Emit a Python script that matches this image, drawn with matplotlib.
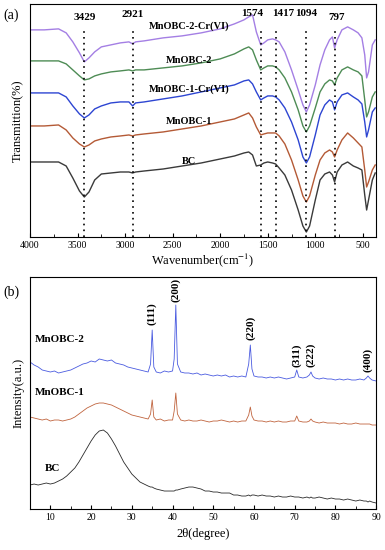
import numpy as np
import matplotlib
matplotlib.use("Agg")
import matplotlib.pyplot as plt
from matplotlib.ticker import MultipleLocator

plt.rcParams['font.family'] = ['Liberation Serif', 'DejaVu Serif']
plt.rcParams['mathtext.fontset'] = 'stix'

# ---------------- FTIR data (arbitrary units) ----------------
wn = [4000, 3850, 3700, 3620, 3550, 3480, 3429, 3380, 3320, 3250,
      3150, 3050, 2960, 2921, 2890, 2800, 2600, 2400, 2200, 2000,
      1850, 1750, 1700, 1660, 1620, 1574, 1540, 1500, 1450, 1417,
      1380, 1320, 1250, 1180, 1130, 1094, 1060, 1000, 950, 900,
      850, 820, 797, 770, 720, 660, 600, 550, 510, 480,
      460, 440, 400, 370]

ft_mnobc2_cr = [210, 210, 211, 207, 198, 187, 178, 182, 188, 193,
                195, 197, 198, 196, 198, 199, 202, 204, 207, 211,
                216, 220, 223, 225, 208, 195, 197, 200, 201, 200,
                198, 188, 170, 150, 135, 128, 135, 155, 175, 190,
                200, 203, 192, 200, 210, 213, 210, 207, 202, 185,
                162, 168, 195, 200]
ft_mnobc2 = [179, 179, 179, 176, 170, 164, 160, 161, 164, 166,
             168, 169, 170, 169, 170, 170, 172, 174, 177, 181,
             186, 191, 193, 190, 180, 170, 172, 174, 174, 173,
             170, 162, 148, 130, 114, 108, 114, 132, 148, 156,
             160, 159, 155, 162, 170, 173, 170, 168, 164, 140,
             123, 128, 143, 148]
ft_mnobc1_cr = [147, 147, 147, 143, 134, 126, 122, 125, 131, 134,
                137, 138, 138, 134, 137, 138, 141, 144, 148, 152,
                155, 159, 160, 156, 148, 140, 142, 144, 144, 143,
                140, 132, 118, 100, 83, 77, 83, 105, 125, 135,
                140, 138, 130, 138, 145, 147, 143, 140, 136, 118,
                103, 110, 128, 132]
ft_mnobc1 = [114, 114, 115, 110, 102, 96, 93, 95, 99, 101,
             103, 104, 105, 104, 105, 106, 108, 111, 114, 118,
             121, 125, 127, 122, 113, 105, 106, 107, 107, 107,
             104, 96, 80, 60, 44, 38, 44, 65, 80, 87,
             90, 88, 83, 90, 100, 107, 102, 97, 93, 70,
             53, 58, 70, 75]
ft_bc = [78, 78, 78, 74, 62, 49, 43, 48, 60, 66,
         67, 68, 68, 67, 68, 69, 71, 74, 77, 81,
         84, 87, 88, 85, 74, 75, 77, 78, 77, 76,
         72, 65, 50, 30, 14, 8, 14, 40, 60, 66,
         68, 65, 58, 68, 75, 78, 74, 72, 70, 45,
         30, 40, 60, 67]

ft_names = ['MnOBC-2-Cr(VI)', 'MnOBC-2', 'MnOBC-1-Cr(VI)', 'MnOBC-1', 'BC']
ft_colors = ['#a47fe4', '#4e8c55', '#2d45d2', '#b45a36', '#3a3a3a']
ft_peaks = [3429, 2921, 1574, 1417, 1094, 797]

# ---------------- XRD data (arbitrary units) ----------------
tt = ([5, 6, 7, 8, 9, 10, 11, 12, 13, 14, 15, 16, 17, 18, 19, 20, 21, 22, 23, 24,
       25, 26, 27, 28, 29, 30, 31, 32, 33, 34]
      + [34.6, 35.0, 35.4] + [36, 37, 38, 39, 40] + [40.4, 40.8, 41.2]
      + [42, 43, 44, 45, 46, 47, 48, 49, 50, 51, 52, 53, 54, 55, 56, 57, 58]
      + [58.7, 59.1, 59.5] + [60, 61, 62, 63, 64, 65, 66, 67, 68, 69, 70]
      + [70.5] + [71, 72, 73] + [73.6, 74.0, 74.4]
      + [75, 76, 77, 78, 79, 80, 81, 82, 83, 84, 85, 86, 87]
      + [87.6, 88.0, 88.4] + [89, 90])

xrd_mnobc2 = ([147, 144, 142, 139, 138, 137, 138, 136, 137, 138, 139, 141, 143, 145, 146,
               148, 147, 150, 149, 148, 149, 146, 145, 144, 142, 141, 140, 139, 138, 137]
              + [145, 179, 142] + [137, 136, 138, 137, 138] + [150, 204, 145]
              + [137, 136, 136, 135, 136, 134, 135, 134, 133, 134, 133, 134, 132, 133, 132, 133, 132]
              + [145, 164, 140] + [133, 132, 132, 131, 132, 131, 132, 131, 130, 131, 132]
              + [139] + [132, 131, 132] + [134, 137, 133]
              + [131, 130, 131, 130, 130, 129, 130, 129, 130, 129, 129, 130, 129]
              + [131, 133, 131] + [129, 128])
xrd_mnobc1 = ([92, 91, 90, 89, 90, 88, 89, 89, 88, 89, 90, 92, 95, 98, 101,
               103, 105, 106, 106, 105, 104, 102, 100, 98, 96, 94, 93, 92, 91, 90]
              + [95, 109, 92] + [89, 90, 88, 89, 89] + [98, 116, 95]
              + [89, 88, 89, 88, 88, 89, 88, 87, 88, 88, 89, 88, 87, 88, 87, 88, 88]
              + [94, 102, 93] + [89, 88, 88, 87, 88, 87, 88, 87, 87, 88, 88]
              + [93] + [88, 87, 87] + [88, 90, 88]
              + [87, 86, 87, 86, 86, 86, 85, 86, 85, 85, 86, 85, 85]
              + [85, 85, 85] + [84, 84])
xrd_bc = ([24, 25, 24, 25, 26, 25, 26, 28, 30, 33, 37, 41, 47, 54, 61,
           68, 74, 78, 79, 76, 70, 63, 55, 47, 41, 35, 31, 27, 25, 23]
          + [22, 22, 21] + [20, 19, 18, 18, 18] + [18, 19, 19]
          + [20, 21, 22, 22, 21, 20, 18, 18, 17, 17, 16, 16, 16, 14, 14, 13, 13]
          + [14, 13, 14] + [14, 13, 14, 13, 13, 12, 13, 12, 12, 13, 12]
          + [12] + [12, 11, 12] + [11, 12, 11]
          + [11, 12, 11, 10, 11, 10, 10, 9, 10, 9, 8, 9, 8]
          + [8, 7, 8] + [7, 6])

xrd_names = ['MnOBC-2', 'MnOBC-1', 'BC']
xrd_colors = ['#4a5be0', '#c0643e', '#2a2a2a']
hkl = ['(111)', '(200)', '(220)', '(311)', '(222)', '(400)']
hkl_pos = [35.0, 40.8, 59.1, 70.5, 74.0, 88.0]

fig = plt.figure(figsize=(3.85, 5.5), dpi=100)
ax1 = fig.add_axes([0.078, 0.569, 0.899, 0.424])
ax2 = fig.add_axes([0.078, 0.0745, 0.899, 0.4219])

# ---- (a) FTIR ----
for ys, c in zip([ft_mnobc2_cr, ft_mnobc2, ft_mnobc1_cr, ft_mnobc1, ft_bc], ft_colors):
    ax1.plot(wn, ys, color=c, lw=1.0)
ax1.vlines(ft_peaks, 3, 210, colors='black', linestyles=(0, (1, 2.5)), lw=1.2)
# label positions nudged sideways where the peaks sit close together
lab_x = [3429, 2921, 1665, 1335, 1094, 775]
lab_y = [218, 221, 222, 222, 222, 218]
for p, xx, yy in zip(ft_peaks, lab_x, lab_y):
    ax1.text(xx, yy, str(p), ha='center', va='bottom', fontsize=8, fontweight='bold')
ft_lab_pos = [(2330, 214), (2330, 179), (2330, 151), (2330, 118), (2330, 78)]
for name, (xx, yy) in zip(ft_names, ft_lab_pos):
    ax1.text(xx, yy, name, ha='center', va='center', fontsize=7.5, fontweight='bold')
ax1.set_xlim(4000, 360)
ax1.set_ylim(3, 236)
ax1.set_yticks([])
ax1.xaxis.set_major_locator(MultipleLocator(500))
ax1.xaxis.set_minor_locator(MultipleLocator(250))
ax1.tick_params(axis='x', direction='in', labelsize=7, length=3, pad=3)
ax1.tick_params(axis='x', which='minor', direction='in', length=2)
ax1.set_xlabel('Wavenumber(cm$^{-1}$)', fontsize=9, labelpad=1)
ax1.set_ylabel('Transmittion(%)', fontsize=9, labelpad=4)
fig.text(0.008, 0.966, '(a)', fontsize=10)

# ---- (b) XRD ----
for ys, c in zip([xrd_mnobc2, xrd_mnobc1, xrd_bc], xrd_colors):
    ax2.plot(tt, ys, color=c, lw=0.6)
for lab, p, yy in zip(hkl, hkl_pos, [195, 219, 181, 154, 154, 149]):
    ax2.text(p, yy, lab, rotation=90, ha='center', va='center', fontsize=8, fontweight='bold')
ax2.text(6.2, 169, 'MnOBC-2', fontsize=8, fontweight='bold', va='center')
ax2.text(6.2, 117, 'MnOBC-1', fontsize=8, fontweight='bold', va='center')
ax2.text(10.5, 41, 'BC', fontsize=8, fontweight='bold', va='center', ha='center')
ax2.set_xlim(5, 90)
ax2.set_ylim(0, 232)
ax2.set_yticks([])
ax2.xaxis.set_major_locator(MultipleLocator(10))
ax2.xaxis.set_minor_locator(MultipleLocator(5))
ax2.tick_params(axis='x', direction='in', labelsize=7, length=3, pad=3)
ax2.tick_params(axis='x', which='minor', direction='in', length=2)
ax2.set_xlabel('2θ(degree)', fontsize=9, labelpad=4)
ax2.set_ylabel('Intensity(a.u.)', fontsize=9, labelpad=4)
fig.text(0.008, 0.462, '(b)', fontsize=10)

fig.savefig('out.png', dpi=100)
